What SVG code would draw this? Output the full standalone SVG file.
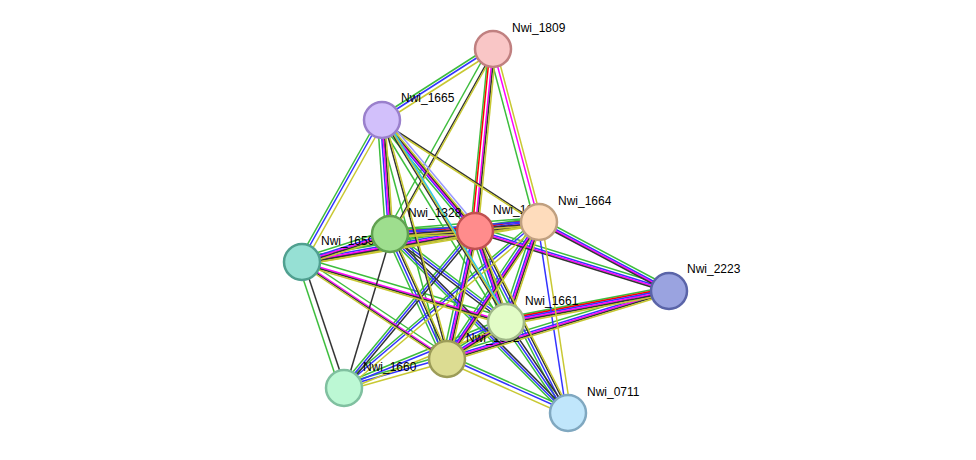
<svg xmlns="http://www.w3.org/2000/svg" xmlns:xlink="http://www.w3.org/1999/xlink" width="976" height="460" viewBox="0 0 976 460">
<style>
.e line{fill:none}
.c use{stroke-width:1.5}
.n circle{stroke-width:2.5}
text{font-family:"Liberation Sans",Arial,sans-serif;font-size:12px;fill:#000}
</style>
<defs>
<line id="AB" x1="493" y1="49" x2="382" y2="120"/>
<line id="AC" x1="493" y1="49" x2="390" y2="234"/>
<line id="AD" x1="493" y1="49" x2="475" y2="231"/>
<line id="AE" x1="493" y1="49" x2="539" y2="222"/>
<line id="BF" x1="382" y1="120" x2="302" y2="262"/>
<line id="BC" x1="382" y1="120" x2="390" y2="234"/>
<line id="BD" x1="382" y1="120" x2="475" y2="231"/>
<line id="BE" x1="382" y1="120" x2="539" y2="222"/>
<line id="BH" x1="382" y1="120" x2="506" y2="322"/>
<line id="BI" x1="382" y1="120" x2="447" y2="359"/>
<line id="CD" x1="390" y1="234" x2="475" y2="231"/>
<line id="CF" x1="390" y1="234" x2="302" y2="262"/>
<line id="CE" x1="390" y1="234" x2="539" y2="222"/>
<line id="CH" x1="390" y1="234" x2="506" y2="322"/>
<line id="CI" x1="390" y1="234" x2="447" y2="359"/>
<line id="CJ" x1="390" y1="234" x2="344" y2="388"/>
<line id="CK" x1="390" y1="234" x2="568" y2="413"/>
<line id="DE" x1="475" y1="231" x2="539" y2="222"/>
<line id="DF" x1="475" y1="231" x2="302" y2="262"/>
<line id="DG" x1="475" y1="231" x2="669" y2="291"/>
<line id="DH" x1="475" y1="231" x2="506" y2="322"/>
<line id="DI" x1="475" y1="231" x2="447" y2="359"/>
<line id="DJ" x1="475" y1="231" x2="344" y2="388"/>
<line id="DK" x1="475" y1="231" x2="568" y2="413"/>
<line id="EF" x1="539" y1="222" x2="302" y2="262"/>
<line id="EG" x1="539" y1="222" x2="669" y2="291"/>
<line id="EH" x1="539" y1="222" x2="506" y2="322"/>
<line id="EI" x1="539" y1="222" x2="447" y2="359"/>
<line id="EJ" x1="539" y1="222" x2="344" y2="388"/>
<line id="EK" x1="539" y1="222" x2="568" y2="413"/>
<line id="FH" x1="302" y1="262" x2="506" y2="322"/>
<line id="FI" x1="302" y1="262" x2="447" y2="359"/>
<line id="FJ" x1="302" y1="262" x2="344" y2="388"/>
<line id="GH" x1="669" y1="291" x2="506" y2="322"/>
<line id="GI" x1="669" y1="291" x2="447" y2="359"/>
<line id="HI" x1="506" y1="322" x2="447" y2="359"/>
<line id="HJ" x1="506" y1="322" x2="344" y2="388"/>
<line id="HK" x1="506" y1="322" x2="568" y2="413"/>
<line id="IJ" x1="447" y1="359" x2="344" y2="388"/>
<line id="IK" x1="447" y1="359" x2="568" y2="413"/>
</defs>
<rect width="976" height="460" fill="#fff"/>
<g id="connectors" class="c">
<g stroke="#3dbd3d" transform="translate(0,-4.5)"><use href="#AB"/><use href="#CD"/><use href="#CF"/><use href="#CE"/><use href="#CH"/><use href="#DE"/><use href="#DF"/><use href="#DG"/><use href="#EF"/><use href="#EG"/><use href="#EJ"/><use href="#FH"/><use href="#FI"/><use href="#GH"/><use href="#GI"/><use href="#HI"/><use href="#HJ"/><use href="#IJ"/><use href="#IK"/></g>
<g stroke="#3dbd3d" transform="translate(-4.5,0)"><use href="#AC"/><use href="#AD"/><use href="#AE"/><use href="#BF"/><use href="#BC"/><use href="#BD"/><use href="#BH"/><use href="#BI"/><use href="#CI"/><use href="#CK"/><use href="#DH"/><use href="#DI"/><use href="#DJ"/><use href="#DK"/><use href="#EH"/><use href="#EI"/><use href="#FJ"/><use href="#HK"/></g>
<g stroke="#ff0000" transform="translate(0,-3)"><use href="#CD"/><use href="#DE"/><use href="#GH"/></g>
<g stroke="#ff0000" transform="translate(-3,0)"><use href="#AD"/></g>
<g stroke="#3333ff" transform="translate(0,-1.5)"><use href="#AB"/><use href="#CD"/><use href="#CF"/><use href="#CE"/><use href="#CH"/><use href="#DE"/><use href="#DF"/><use href="#DG"/><use href="#EG"/><use href="#EJ"/><use href="#GH"/><use href="#GI"/><use href="#HI"/><use href="#HJ"/><use href="#IJ"/><use href="#IK"/></g>
<g stroke="#3333ff" transform="translate(-1.5,0)"><use href="#BF"/><use href="#BC"/><use href="#BD"/><use href="#CI"/><use href="#CK"/><use href="#DH"/><use href="#DI"/><use href="#DJ"/><use href="#DK"/><use href="#EH"/><use href="#EI"/><use href="#EK"/><use href="#HK"/></g>
<g stroke="#ff00ff"><use href="#CD"/><use href="#CF"/><use href="#DE"/><use href="#DF"/><use href="#DG"/><use href="#EF"/><use href="#EG"/><use href="#FH"/><use href="#FI"/><use href="#GH"/><use href="#GI"/><use href="#HI"/><use href="#AD"/><use href="#AE"/><use href="#BC"/><use href="#BD"/><use href="#DH"/><use href="#DI"/><use href="#EH"/><use href="#EI"/></g>
<g stroke="#333333" transform="translate(0,1.5)"><use href="#BE"/><use href="#CD"/><use href="#CF"/><use href="#CE"/><use href="#CH"/><use href="#DE"/><use href="#DF"/><use href="#DG"/><use href="#EF"/><use href="#EG"/><use href="#FH"/><use href="#FI"/><use href="#GH"/><use href="#GI"/><use href="#HI"/></g>
<g stroke="#333333" transform="translate(1.5,0)"><use href="#AC"/><use href="#AD"/><use href="#BC"/><use href="#BD"/><use href="#BH"/><use href="#BI"/><use href="#CI"/><use href="#CJ"/><use href="#CK"/><use href="#DH"/><use href="#DI"/><use href="#DJ"/><use href="#DK"/><use href="#EH"/><use href="#EI"/><use href="#FJ"/><use href="#HK"/></g>
<g stroke="#c8c832" transform="translate(0,3)"><use href="#AB"/><use href="#BE"/><use href="#CD"/><use href="#CF"/><use href="#CE"/><use href="#DE"/><use href="#DF"/><use href="#EF"/><use href="#EJ"/><use href="#FH"/><use href="#FI"/><use href="#GH"/><use href="#GI"/><use href="#HI"/><use href="#HJ"/><use href="#IJ"/><use href="#IK"/></g>
<g stroke="#c8c832" transform="translate(3,0)"><use href="#AC"/><use href="#AD"/><use href="#AE"/><use href="#BF"/><use href="#BC"/><use href="#BD"/><use href="#BH"/><use href="#BI"/><use href="#CI"/><use href="#DH"/><use href="#DI"/><use href="#DK"/><use href="#EH"/><use href="#EI"/><use href="#EK"/></g>
<g stroke="#33c8e6" transform="translate(4.5,0)"><use href="#BH"/></g>
<g stroke="#9999ff" transform="translate(6,0)"><use href="#BD"/></g>
</g>
<g id="labels">
<text x="512" y="32">Nwi_1809</text>
<text x="401" y="102">Nwi_1665</text>
<text x="408" y="217">Nwi_1328</text>
<text x="493" y="214">Nwi_1663</text>
<text x="558" y="205">Nwi_1664</text>
<text x="321" y="245">Nwi_1659</text>
<text x="687" y="273">Nwi_2223</text>
<text x="525" y="305">Nwi_1661</text>
<text x="466" y="342">Nwi_1662</text>
<text x="363" y="371">Nwi_1660</text>
<text x="587" y="396">Nwi_0711</text>
</g>
<g id="nA" class="n"><circle cx="493" cy="49" r="18" fill="#f9c6c6" stroke="#c08080"/></g>
<g id="nB" class="n"><circle cx="382" cy="120" r="18" fill="#d2c0fb" stroke="#9a80cc"/></g>
<g id="nC" class="n"><circle cx="390" cy="234" r="18" fill="#9ede8e" stroke="#60a050"/></g>
<g id="nD" class="n"><circle cx="475" cy="231" r="18" fill="#ff8c8c" stroke="#c05050"/></g>
<g id="nE" class="n"><circle cx="539" cy="222" r="18" fill="#fedcbc" stroke="#c0a080"/></g>
<g id="nF" class="n"><circle cx="302" cy="262" r="18" fill="#96e0d4" stroke="#50a090"/></g>
<g id="nG" class="n"><circle cx="669" cy="291" r="18" fill="#9aa3e0" stroke="#5a64a8"/></g>
<g id="nH" class="n"><circle cx="506" cy="322" r="18" fill="#e2fcc6" stroke="#a0b888"/></g>
<g id="nI" class="n"><circle cx="447" cy="359" r="18" fill="#dcdc92" stroke="#9c9c58"/></g>
<g id="nJ" class="n"><circle cx="344" cy="388" r="18" fill="#bcf8d4" stroke="#80c0a0"/></g>
<g id="nK" class="n"><circle cx="568" cy="413" r="18" fill="#c0e6fb" stroke="#80a8c0"/></g>
</svg>
